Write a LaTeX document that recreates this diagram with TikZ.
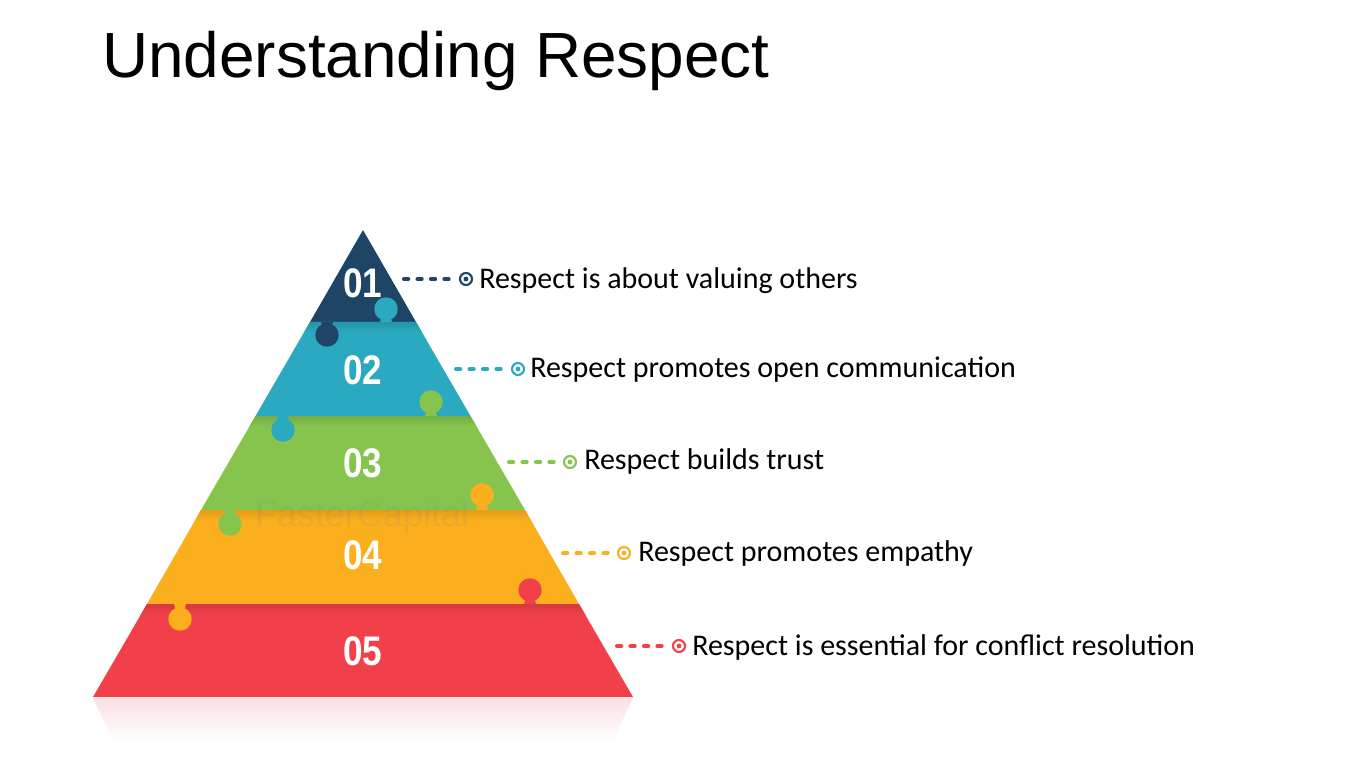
\documentclass[tikz,border=0pt]{standalone}
\usepackage{fontspec}
\setmainfont{Liberation Sans}
\newfontfamily\lblfont{Carlito}
\definecolor{cA}{HTML}{1E4566}
\definecolor{cB}{HTML}{2AA9C0}
\definecolor{cC}{HTML}{86C44E}
\definecolor{cD}{HTML}{FBAF1C}
\definecolor{cE}{HTML}{F2404A}
\definecolor{refl}{RGB}{250,224,226}
\newcommand\puzzletab[5]{% x, yboundary, ycenter, color, unused
  \fill[#4] (#1-6,#2) -- (#1-4,{(#2+#3)/2}) -- (#1-4,#3) -- (#1+4,#3) -- (#1+4,{(#2+#3)/2}) -- (#1+6,#2) -- cycle;
  \fill[#4] (#1,#3) circle (8.8pt);
}
\tikzset{
  num/.style={text=white, font=\bfseries\fontsize{31}{31}\selectfont, inner sep=0pt},
  lbl/.style={anchor=base west, inner sep=0pt, font=\lblfont\fontsize{22.5}{26}\selectfont},
  ring/.style={circle, draw=#1, line width=1.6pt, minimum size=9pt, inner sep=0pt},
  conn/.style={draw=#1, line width=3pt, line cap=round, dash pattern=on 3.2pt off 6.9pt}
}
\begin{document}
\begin{tikzpicture}[x=0.75pt,y=-0.75pt]
\useasboundingbox (0,0) rectangle (1350,759);
\fill[white] (0,0) rectangle (1350,759);

% title
\node[anchor=base west, inner sep=0pt, font=\fontsize{47.9}{50}\selectfont] (title) at (102,78) {Understanding Respect};

% reflection
\shade[top color=refl, bottom color=white] (93,698) -- (633,698) -- (612,742) -- (114,742) -- cycle;

% layers
\fill[cA] (363,230) -- (416,322) -- (310,322) -- cycle;
\fill[cB] (310,322) -- (416,322) -- (470.5,416) -- (255.5,416) -- cycle;
\fill[cC] (255.5,416) -- (470.5,416) -- (525,510) -- (201,510) -- cycle;
\fill[cD] (201,510) -- (525,510) -- (579,604) -- (147,604) -- cycle;
\fill[cE] (147,604) -- (579,604) -- (633,697) -- (93,697) -- cycle;

% soft shadows under each boundary
\begin{scope}
\clip (310,322) -- (416,322) -- (470.5,416) -- (255.5,416) -- cycle;
\shade[top color=cB!88!black, bottom color=cB] (250,322) rectangle (480,333);
\end{scope}
\begin{scope}
\clip (255.5,416) -- (470.5,416) -- (525,510) -- (201,510) -- cycle;
\shade[top color=cC!88!black, bottom color=cC] (200,416) rectangle (530,427);
\end{scope}
\begin{scope}
\clip (201,510) -- (525,510) -- (579,604) -- (147,604) -- cycle;
\shade[top color=cD!90!black, bottom color=cD] (140,510) rectangle (590,521);
\end{scope}
\begin{scope}
\clip (147,604) -- (579,604) -- (633,697) -- (93,697) -- cycle;
\shade[top color=cE!88!black, bottom color=cE] (90,604) rectangle (640,615);
\end{scope}

% puzzle tabs
\puzzletab{386}{322}{309}{cB}{}
\puzzletab{327}{322}{335}{cA}{}
\puzzletab{431}{416}{402}{cC}{}
\puzzletab{283}{416}{430}{cB}{}
\puzzletab{482}{510}{495}{cD}{}
\puzzletab{230}{510}{524}{cC}{}
\puzzletab{530}{604}{590}{cE}{}
\puzzletab{180}{604}{619}{cD}{}

% watermark
\node[text=gray, opacity=0.12, font=\fontsize{27}{27}\selectfont, inner sep=0pt] (wm) at (362,517) {FasterCapital};

% numbers
\node[num] (n1) at (363,283) {\scalebox{0.85}[1]{01}};
\node[num] (n2) at (363,370) {\scalebox{0.85}[1]{02}};
\node[num] (n3) at (363,463) {\scalebox{0.85}[1]{03}};
\node[num] (n4) at (363,555) {\scalebox{0.85}[1]{04}};
\node[num] (n5) at (363,651) {\scalebox{0.85}[1]{05}};

% connectors
\coordinate (s1) at (404,279);
\coordinate (s2) at (456,369);
\coordinate (s3) at (509,462);
\coordinate (s4) at (563,553);
\coordinate (s5) at (617,646);
\node[ring=cA] (r1) at (466,279) {};
\node[ring=cB] (r2) at (518,369) {};
\node[ring=cC] (r3) at (570,462) {};
\node[ring=cD] (r4) at (624,553) {};
\node[ring=cE] (r5) at (679,646) {};
\foreach \i/\c in {1/cA,2/cB,3/cC,4/cD,5/cE}{
  \fill[\c] (r\i.center) circle (1.8pt);
  \path[conn=\c] (s\i) -- ([xshift=-3pt]r\i.west);
}

% labels
\node[lbl] (l1) at (479,289) {Respect is about valuing others};
\node[lbl] (l2) at (530,377.5) {Respect promotes open communication};
\node[lbl] (l3) at (584,469.5) {Respect builds trust};
\node[lbl] (l4) at (638,561.5) {Respect promotes empathy};
\node[lbl] (l5) at (692,655.5) {Respect is essential for conflict resolution};
\end{tikzpicture}
\end{document}
